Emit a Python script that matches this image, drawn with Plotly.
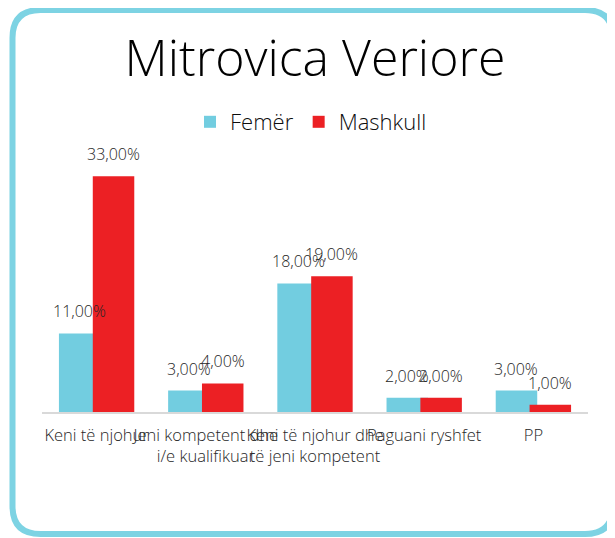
import plotly.graph_objects as go

categories = ["Keni të njohur", "Jeni kompetent dhe<br>i/e kualifikuar",
              "Keni të njohur dhe<br>të jeni kompetent", "Paguani ryshfet", "PP"]
femer = [11, 3, 18, 2, 3]
mashkull = [33, 4, 19, 2, 1]
series_names = ["Femër", "Mashkull"]
colors = ["#72CDE0", "#EC2024"]

# the page places the figure 8px in from the top-left corner
OFF = 8
W, H = 615 - OFF, 538 - OFF
ML, MT = 42 - OFF, 162 - OFF
MR, MB = 615 - 588, 538 - 412
YMAX = 35
FONT = "Open Sans"
WT = 300
TXT = "#262626"

bar_w = 0.38
offsets = [-0.345, -0.035]

fig = go.Figure()
xs = list(range(len(categories)))
for name, vals, col, off in zip(series_names, [femer, mashkull], colors, offsets):
    fig.add_trace(go.Bar(x=xs, y=vals, name=name, marker_color=col,
                         marker_line_width=0, width=bar_w, offset=off))

annotations = []
for vals, off in zip([femer, mashkull], offsets):
    for i, v in enumerate(vals):
        annotations.append(dict(x=i + off + bar_w / 2, y=v, xref="x", yref="y",
                                text=f"{v:.2f}%".replace(".", ","), showarrow=False,
                                yanchor="middle", yshift=22,
                                font=dict(family=FONT, size=16, color=TXT, weight=WT)))

# rounded border in paper coords (given in reference-pixel coords)
pw, ph = W - ML - MR, H - MT - MB
def px(x):
    return (x - OFF - ML) / pw
def py(y):
    return (H - MB - (y - OFF)) / ph
L, T, R, B, r = 12.5, 10, 613, 534, 28
path = (f"M {px(L+r)},{py(T)} L {px(R-r)},{py(T)} Q {px(R)},{py(T)} {px(R)},{py(T+r)} "
        f"L {px(R)},{py(B-r)} Q {px(R)},{py(B)} {px(R-r)},{py(B)} "
        f"L {px(L+r)},{py(B)} Q {px(L)},{py(B)} {px(L)},{py(B-r)} "
        f"L {px(L)},{py(T+r)} Q {px(L)},{py(T)} {px(L+r)},{py(T)} Z")

fig.update_layout(
    width=W, height=H, margin=dict(l=ML, r=MR, t=MT, b=MB, autoexpand=False),
    paper_bgcolor="white", plot_bgcolor="white",
    barmode="overlay",
    title=dict(text="Mitrovica Veriore", x=px(315), xanchor="center", xref="paper",
               y=1 - (58 - OFF) / H, yanchor="middle",
               font=dict(family=FONT, size=50, color="#000000", weight=WT)),
    legend=dict(orientation="h", x=px(311), xanchor="center", y=py(122), yanchor="middle",
                font=dict(family=FONT, size=22, color="#0d0d0d", weight=WT), itemwidth=30,
                bgcolor="rgba(0,0,0,0)"),
    xaxis=dict(tickmode="array", tickvals=xs, ticktext=categories, tickangle=0,
               automargin=False, ticklabelstandoff=7,
               range=[-0.5, len(categories) - 0.5], showline=True, linecolor="#D9D9D9",
               linewidth=2, ticks="", showgrid=False, zeroline=False,
               tickfont=dict(family=FONT, size=16.5, color=TXT, weight=WT)),
    yaxis=dict(range=[0, YMAX], visible=False, showgrid=False, zeroline=False),
    annotations=annotations,
    shapes=[dict(type="path", xref="paper", yref="paper", path=path,
                 line=dict(color="#7DD3E3", width=6), fillcolor="rgba(0,0,0,0)")],
)

fig.write_html("out.html")
